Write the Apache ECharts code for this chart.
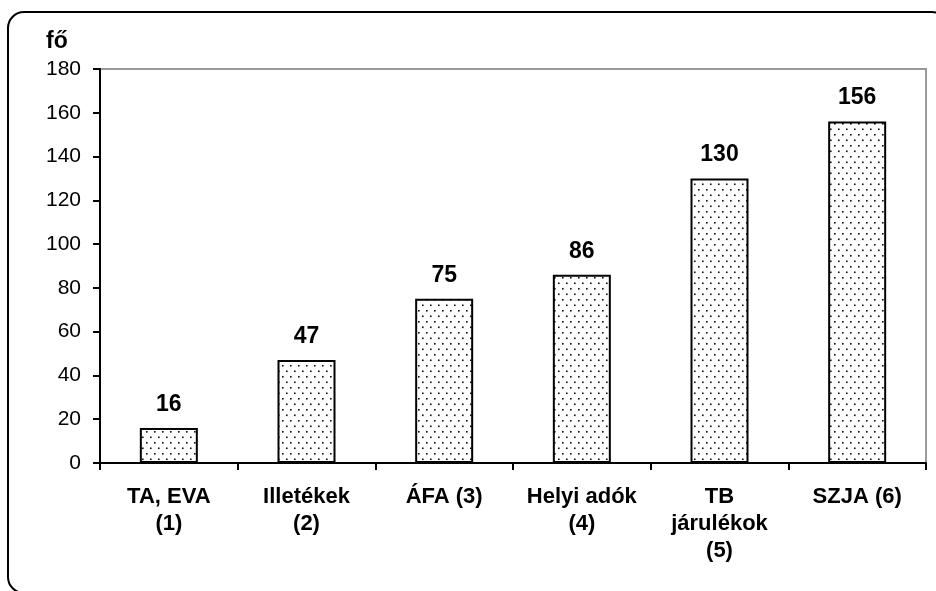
<!DOCTYPE html>
<html>
<head>
<meta charset="utf-8">
<script src="https://cdn.jsdelivr.net/npm/echarts@6/dist/echarts.min.js"></script>
<style>
  html, body { margin: 0; padding: 0; background: #fff; }
  #chart { width: 936px; height: 591px; }
</style>
</head>
<body>
<div id="chart"></div>
<script>
// Categories (tax types) and headcount values
const categories = ['TA, EVA\n(1)', 'Illetékek\n(2)', 'ÁFA (3)', 'Helyi adók\n(4)', 'TB\njárulékok\n(5)', 'SZJA (6)'];
const values = [16, 47, 75, 86, 130, 156];
const yTicks = [0, 20, 40, 60, 80, 100, 120, 140, 160, 180];
const unitLabel = 'fő';

// Dotted fill used inside the bars
function dotPattern() {
  const c = document.createElement('canvas');
  c.width = 8; c.height = 11;
  const ctx = c.getContext('2d');
  ctx.fillStyle = '#fff';
  ctx.fillRect(0, 0, 8, 11);
  ctx.fillStyle = '#111';
  ctx.fillRect(2, 2, 1.6, 1.6);
  ctx.fillRect(6, 7.5, 1.6, 1.6);
  return c;
}

const chart = echarts.init(document.getElementById('chart'), null, { renderer: 'canvas' });
const font = '"Liberation Sans", Arial, sans-serif';

chart.setOption({
  animation: false,
  backgroundColor: '#fff',
  grid: {
    left: 100, right: 10, top: 69, bottom: 128,
    show: true, borderColor: '#999', borderWidth: 2, backgroundColor: 'transparent'
  },
  graphic: [
    {
      type: 'rect',
      shape: { x: 8, y: 12, width: 940, height: 581, r: 16 },
      style: { fill: 'none', stroke: '#000', lineWidth: 2 },
      z: -1
    },
    {
      type: 'text',
      left: 46, top: 30,
      style: { text: unitLabel, font: 'bold 23px ' + font, fill: '#000' }
    }
  ],
  xAxis: {
    type: 'category',
    data: categories,
    axisLine: { lineStyle: { color: '#000', width: 2 } },
    axisTick: { show: true, length: 7, lineStyle: { color: '#000', width: 2 } },
    axisLabel: {
      interval: 0, margin: 20, color: '#000',
      fontFamily: font, fontWeight: 'bold', fontSize: 22, lineHeight: 27
    },
    splitLine: { show: false }
  },
  yAxis: {
    type: 'value',
    min: yTicks[0], max: yTicks[yTicks.length - 1], interval: 20,
    axisLine: { show: true, lineStyle: { color: '#000', width: 2 } },
    axisTick: { show: true, length: 7, lineStyle: { color: '#000', width: 2 } },
    axisLabel: { margin: 19, color: '#000', fontFamily: font, fontSize: 21 },
    splitLine: { show: false }
  },
  series: [{
    type: 'bar',
    data: values,
    barWidth: 58,
    itemStyle: {
      color: { image: dotPattern(), repeat: 'repeat' },
      borderColor: '#000', borderWidth: 2
    },
    label: {
      show: true, position: 'top', distance: 12, color: '#000',
      fontFamily: font, fontWeight: 'bold', fontSize: 23
    }
  }]
});
</script>
</body>
</html>
